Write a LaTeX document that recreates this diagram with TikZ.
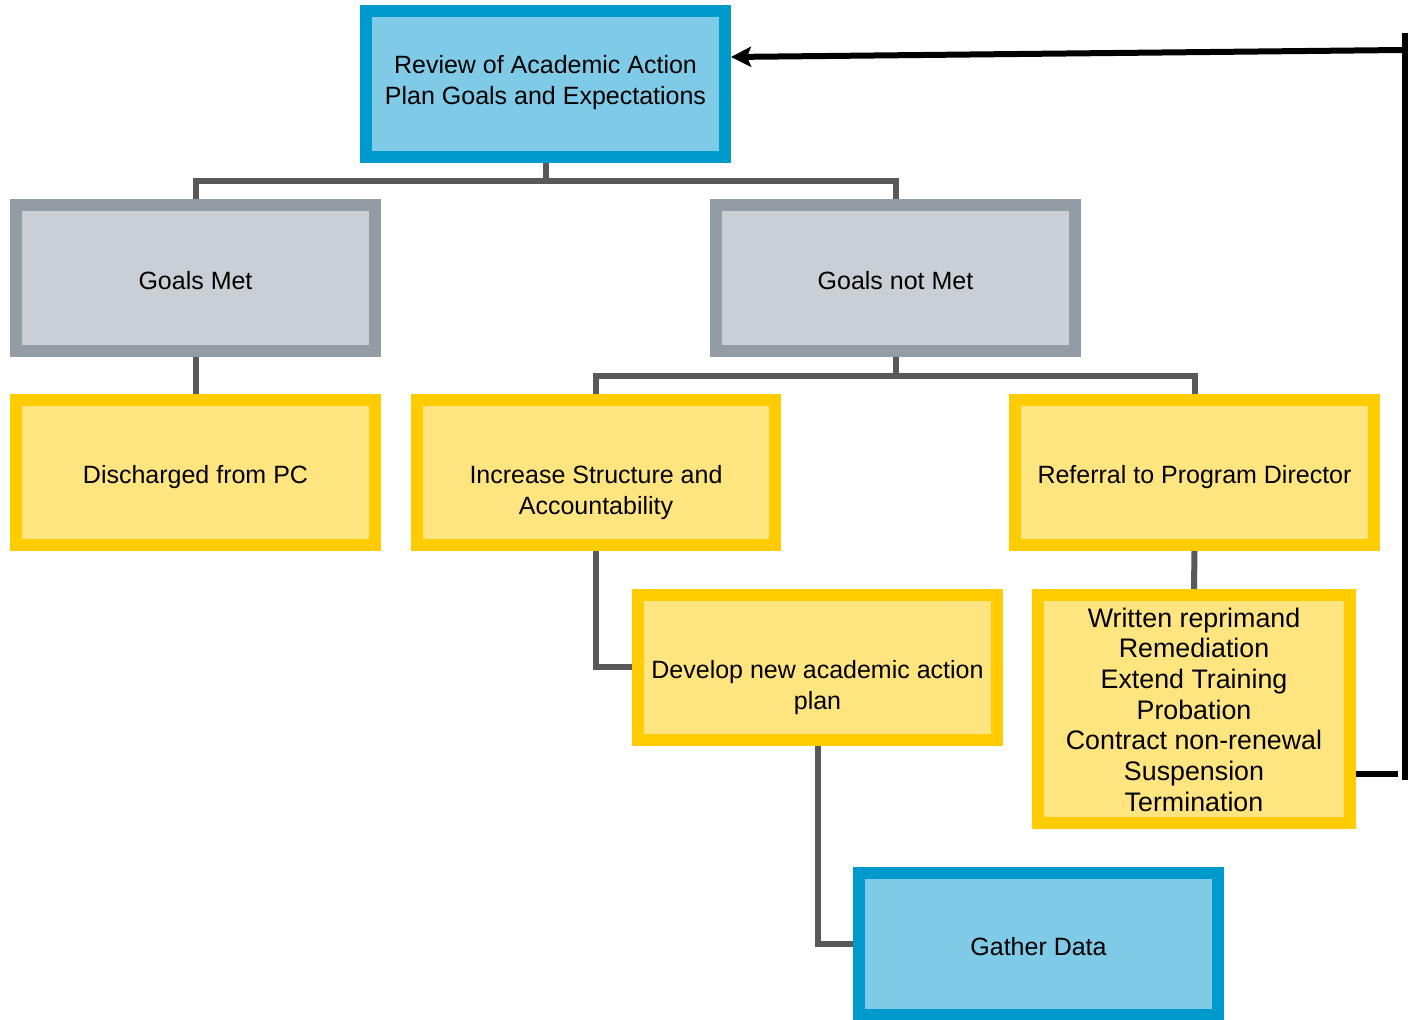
\documentclass[tikz,border=0pt]{standalone}
\usepackage{fontspec}
\setmainfont{Liberation Sans}
\usetikzlibrary{arrows.meta}
\definecolor{bluebd}{RGB}{0,153,204}
\definecolor{bluefl}{RGB}{127,202,230}
\definecolor{graybd}{RGB}{147,155,165}
\definecolor{grayfl}{RGB}{202,207,214}
\definecolor{yelbd}{RGB}{255,204,0}
\definecolor{yelfl}{RGB}{255,229,128}
\definecolor{conncol}{RGB}{89,89,89}
\begin{document}
\begin{tikzpicture}[x=0.5pt,y=-0.5pt,
  box/.style={draw,line width=6pt,minimum width=179.5pt,minimum height=73pt,inner sep=0pt},
  bluebox/.style={box,draw=bluebd,fill=bluefl},
  graybox/.style={box,draw=graybd,fill=grayfl},
  yelbox/.style={box,draw=yelbd,fill=yelfl},
  txt/.style={align=center,inner sep=0pt,font=\fontsize{12.5}{15.4}\selectfont},
  conn/.style={draw=conncol,line width=3pt},
  fb/.style={draw=black,line width=3pt}]
\useasboundingbox (0,0) rectangle (1415,1020);
\node[bluebox] (top) at (545.5,84) {};
\node[graybox] (gm) at (195.5,278) {};
\node[graybox] (gnm) at (895.5,278) {};
\node[yelbox,minimum height=72.5pt] (dis) at (195.5,472.5) {};
\node[yelbox,minimum height=72.5pt,minimum width=179pt] (inc) at (596,472.5) {};
\node[yelbox,minimum height=72.5pt] (ref) at (1194.5,472.5) {};
\node[yelbox,minimum height=72.5pt] (dev) at (817.5,667.5) {};
\node[yelbox,minimum width=156pt,minimum height=114pt] (wr) at (1194,709) {};
\node[bluebox,minimum height=71pt] (gd) at (1038.5,944) {};
% texts
\node[txt] (topT) at ([yshift=0.7pt]top.center) {Review of Academic Action\\Plan Goals and Expectations};
\node[txt] (gmT) at ([yshift=-1.5pt]gm.center) {Goals Met};
\node[txt] (gnmT) at ([yshift=-1.5pt]gnm.center) {Goals not Met};
\node[txt] (disT) at ([yshift=-2.5pt]dis.center) {Discharged from PC};
\node[txt] (incT) at ([yshift=-10pt]inc.center) {Increase Structure and\\Accountability};
\node[txt] (refT) at ([yshift=-2.5pt]ref.center) {Referral to Program Director};
\node[txt] (devT) at ([yshift=-10pt]dev.center) {Develop new academic action\\plan};
\node[txt,font=\fontsize{13.4}{15.35}\selectfont] (wrT) at ([yshift=-0.3pt]wr.center) {Written reprimand\\Remediation\\Extend Training\\Probation\\Contract non-renewal\\Suspension\\Termination};
\node[txt] (gdT) at ([yshift=-1.5pt]gd.center) {Gather Data};
% connectors
\draw[conn] (top.south) -- ++(0,18) coordinate (j1);
\draw[conn] (gm.north) |- (j1) -| (gnm.north);
\draw[conn] (gm.south) -- (dis.north);
\draw[conn] (gnm.south) -- ++(0,19) coordinate (j2);
\draw[conn] (inc.north) |- (j2) -| (ref.north);
\draw[conn] (inc.south) |- (dev.west);
\draw[conn] (dev.south) |- (gd.west);
\draw[conn] (ref.south) -- (wr.north);
% feedback
\coordinate (vt) at (1405,33);
\coordinate (vb) at (1405,780);
\coordinate (ht) at (1403,50);
\draw[fb] (vt) -- (vb);
\draw[fb] ([yshift=-32.5pt]wr.east) -- ++(42,0) coordinate (hb);
\draw[fb,-{Stealth[length=10pt,width=10pt,inset=2pt]}] (ht) -- ([yshift=13.5pt]top.east);
\end{tikzpicture}
\end{document}
